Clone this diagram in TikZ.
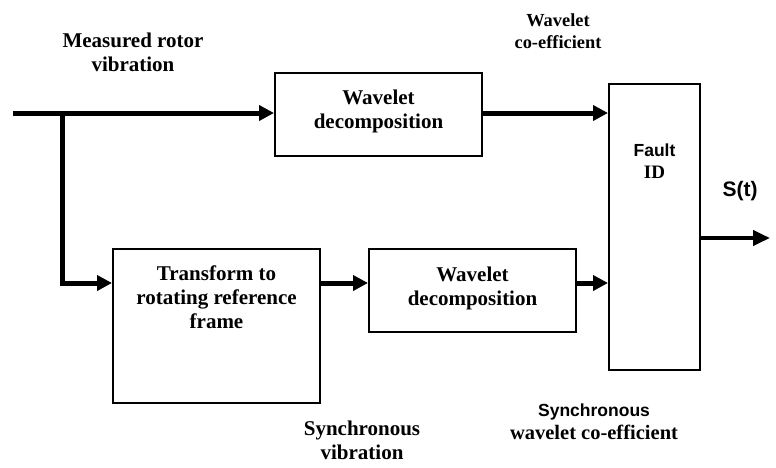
\documentclass[tikz,border=0pt]{standalone}
\usepackage{fontspec}
\setmainfont{Liberation Serif}
\setsansfont{Liberation Sans}
\usetikzlibrary{arrows.meta}
\begin{document}
\begin{tikzpicture}[x=1pt,y=1pt,
  blk/.style={draw,line width=2pt,inner sep=0pt,align=center,font=\bfseries\fontsize{21}{24}\selectfont},
  arr/.style={line width=5pt,-{Triangle[length=15pt,width=15pt]}},
  lbl/.style={align=center,font=\bfseries\fontsize{21}{24}\selectfont}]
\useasboundingbox (0,0) rectangle (776,-467);
% blocks
\node[blk,minimum width=207pt,minimum height=83pt,text depth=10pt] (W1) at (378.5,-114.5) {Wavelet\\decomposition};
\node[blk,minimum width=91pt,minimum height=286pt] (F) at (654.5,-227) {};
\node[blk,minimum width=207pt,minimum height=154pt,
  label={[lbl,anchor=north,yshift=-14pt]north:Transform to\\rotating reference\\frame}] (T) at (216.5,-326) {};
\node[blk,minimum width=207pt,minimum height=83pt,text depth=8pt] (W2) at (472.5,-290.5) {Wavelet\\decomposition};
% text inside fault box
\node[font=\sffamily\bfseries\fontsize{17.5}{20}\selectfont] (fl) at (654.5,-150) {Fault};
\node[font=\bfseries\fontsize{19}{22}\selectfont] (id) at (654.5,-172) {ID};
% coordinates
\coordinate (in) at (13,-113);
\coordinate (split) at (62,-113);
\path (T.north west) ++(0,-35) coordinate (tin);
\coordinate (out) at (770,-238);
% connectors
\draw[line width=5pt] (in) -- (split);
\draw[arr] (split) -- (in -| W1.west);
\draw[arr] (in -| W1.east) -- (in -| F.west);
\draw[arr] (split) |- (tin);
\draw[arr] (tin -| T.east) -- (tin -| W2.west);
\draw[arr] (tin -| W2.east) -- (tin -| F.west);
\draw[line width=4pt,-{Triangle[length=17pt,width=15pt]}] (out -| F.east) -- (out);
% labels
\node[lbl] (l1) at (133,-52) {Measured rotor\\vibration};
\node[align=center,font=\bfseries\fontsize{18.4}{22}\selectfont] (l2) at (558,-31) {Wavelet\\co-efficient};
\node[font=\sffamily\bfseries\fontsize{21}{24}\selectfont] (l3) at (740,-191) {S(t)};
\node[lbl] (l4) at (362,-440) {Synchronous\\vibration};
\node[align=center] (l5) at (594,-422) {{\sffamily\bfseries\fontsize{17.5}{22}\selectfont Synchronous}\\[4pt]{\bfseries\fontsize{20.5}{24}\selectfont wavelet co-efficient}};
\end{tikzpicture}
\end{document}
